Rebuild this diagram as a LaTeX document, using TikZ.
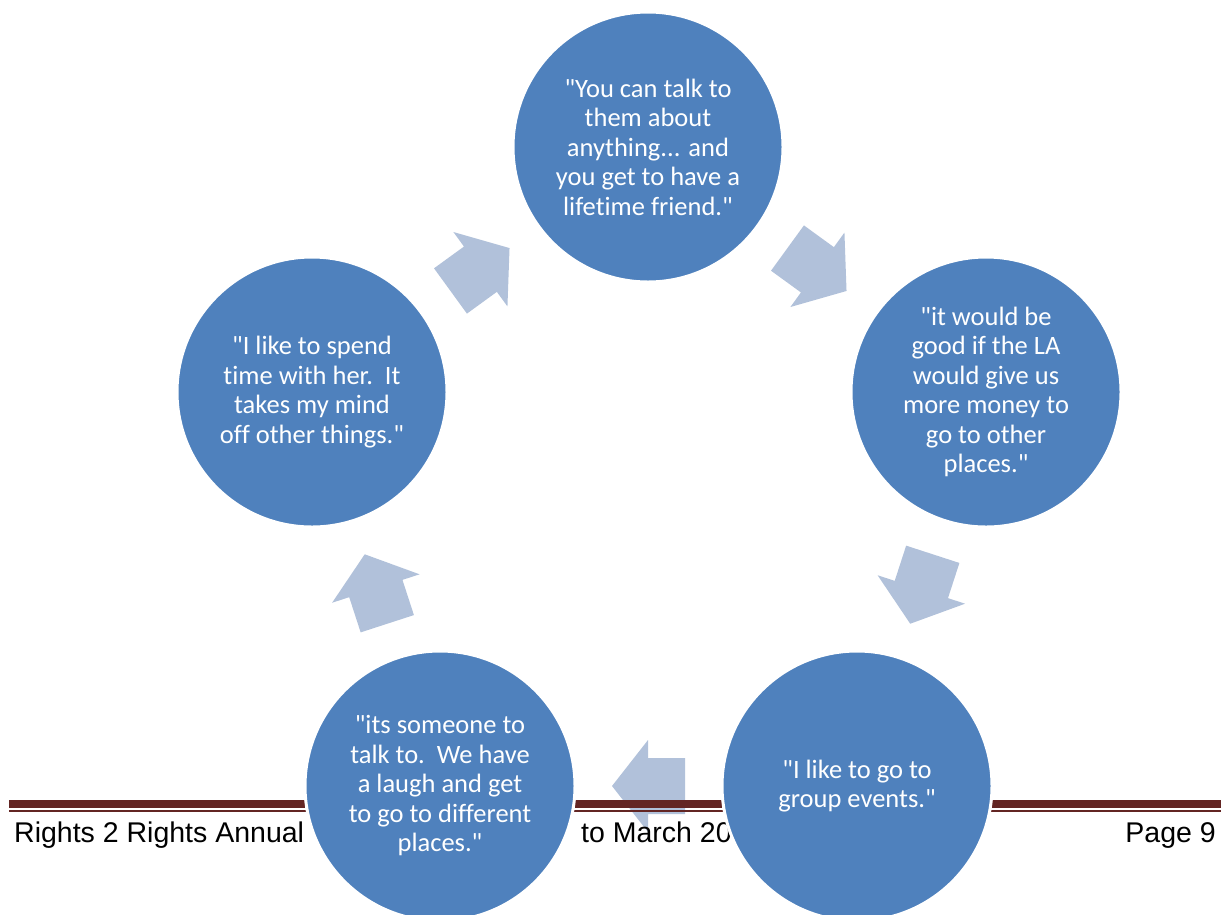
\documentclass[tikz,border=0pt]{standalone}
\usepackage{fontspec}
\usetikzlibrary{calc}
\newfontfamily\bubblefont{Carlito}[Ligatures={NoCommon}]
\newfontfamily\footfont{Liberation Sans}
\definecolor{bubblefill}{RGB}{79,129,189}
\definecolor{arrowfill}{RGB}{177,193,218}
\definecolor{footred}{RGB}{99,37,35}
\tikzset{
  bubble/.style={circle, minimum size=270pt, inner sep=0pt, fill=bubblefill,
    draw=white, line width=3pt, text=white, align=center,
    font=\bubblefont\fontsize{26.5}{29.5}\selectfont},
  blockarrow/.style={fill=arrowfill},
  foottext/.style={inner sep=0pt, font=\footfont\fontsize{28.5}{30}\selectfont, text=black},
  footthick/.style={draw=footred, line width=8.3pt},
  footthin/.style={draw=footred, line width=2pt},
}
\newcommand\cyclearrow[2]{% #1 centre, #2 angle
  \fill[blockarrow, shift={#1}, rotate=#2]
    (-36.5,-28) -- (0.5,-28) -- (0.5,-46) -- (36.5,0) -- (0.5,46) -- (0.5,28) -- (-36.5,28) -- cycle;
}
\begin{document}
\begin{tikzpicture}[x=1pt, y=-1pt]
\useasboundingbox (0,0) rectangle (1228,914);
% centres
\coordinate (cT) at (648,147);
\coordinate (cR) at (986,392);
\coordinate (cBR) at (857,786);
\coordinate (cBL) at (440,786);
\coordinate (cL) at (312,392);
% arrows (under footer)
\coordinate (aLT) at ($(cL)!0.5!(cT)$);
\coordinate (aTR) at ($(cT)!0.5!(cR)$);
\coordinate (aRB) at ($(cR)!0.5!(cBR)$);
\coordinate (aBB) at ($(cBR)!0.5!(cBL)$);
\coordinate (aBL) at ($(cBL)!0.5!(cL)$);
\cyclearrow{(aLT)}{36}
\cyclearrow{(aTR)}{-36}
\cyclearrow{(aRB)}{-108}
\cyclearrow{(aBB)}{180}
\cyclearrow{(aBL)}{108}
% footer
\draw[footthick] (9,804.2) -- (1221,804.2);
\draw[footthin] (9,811) -- (1221,811);
\node[foottext, anchor=base west] (f1) at (14,842) {Rights 2 Rights Annual};
\node[foottext, anchor=base west] (f2) at (581,842) {to March 20};
\node[foottext, anchor=base east] (f3) at (1216,842) {Page 9};
% circles
\node[bubble] (T) at (cT) {"You can talk to\\them about\\anything... and\\you get to have a\\lifetime friend."};
\node[bubble] (R) at (cR) {"it would be\\good if the LA\\would give us\\more money to\\go to other\\places."};
\node[bubble] (BR) at (cBR) {"I like to go to\\group events."};
\node[bubble] (BL) at (cBL) {"its someone to\\talk to.\ \ We have\\a laugh and get\\to go to different\\places."};
\node[bubble] (L) at (cL) {"I like to spend\\time with her.\ \ It\\takes my mind\\off other things."};
\end{tikzpicture}
\end{document}
